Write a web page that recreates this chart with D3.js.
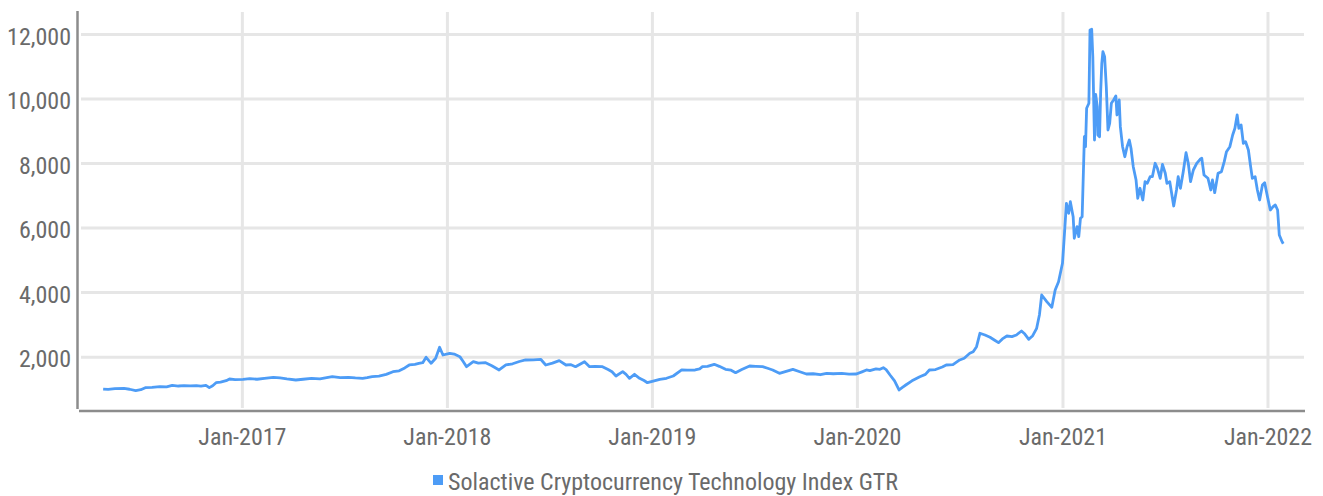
<!DOCTYPE html>
<html>
<head>
<meta charset="utf-8">
<script src="https://cdn.jsdelivr.net/npm/d3@7/dist/d3.min.js"></script>
<style>
  html, body { margin: 0; padding: 0; background: #fff; }
  svg { display: block; }
  text { font-family: "Liberation Sans Narrow", "Roboto Condensed", "DejaVu Sans Condensed", sans-serif; fill: #6a6a6a; }
</style>
</head>
<body>
<svg id="chart" width="1323" height="496"></svg>
<script>
const seriesName = "Solactive Cryptocurrency Technology Index GTR";

const dates = [
  "2016-04-29","2016-05-08","2016-05-20","2016-06-05","2016-06-15","2016-06-26","2016-07-05","2016-07-13","2016-07-25","2016-08-08","2016-08-20","2016-08-30","2016-09-10","2016-09-20","2016-10-01","2016-10-12","2016-10-20","2016-10-29","2016-11-04","2016-11-10","2016-11-16","2016-11-24","2016-12-04","2016-12-10","2016-12-20",
  "2017-01-03","2017-01-15","2017-01-28","2017-02-10","2017-02-26","2017-03-10","2017-03-22","2017-04-07","2017-04-20","2017-05-05","2017-05-20","2017-06-01","2017-06-11","2017-06-25","2017-07-10","2017-07-22","2017-08-04","2017-08-12","2017-08-21","2017-09-02","2017-09-15","2017-09-27","2017-10-08","2017-10-18","2017-10-26","2017-11-05","2017-11-12","2017-11-19","2017-11-25","2017-12-04","2017-12-12","2017-12-19","2017-12-25",
  "2018-01-06","2018-01-14","2018-01-24","2018-01-30","2018-02-05","2018-02-17","2018-02-26","2018-03-11","2018-03-22","2018-04-04","2018-04-16","2018-04-28","2018-05-10","2018-05-21","2018-06-04","2018-06-17","2018-06-26","2018-07-08","2018-07-20","2018-08-01","2018-08-10","2018-08-18","2018-09-03","2018-09-12","2018-09-22","2018-10-05","2018-10-15","2018-10-22","2018-10-29","2018-11-10","2018-11-16","2018-11-22","2018-12-01","2018-12-10","2018-12-18","2018-12-24",
  "2019-01-05","2019-01-15","2019-01-27","2019-02-08","2019-02-23","2019-03-05","2019-03-19","2019-03-27","2019-04-01","2019-04-10","2019-04-22","2019-05-01","2019-05-12","2019-05-22","2019-05-30","2019-06-10","2019-06-24","2019-07-05","2019-07-17","2019-07-26","2019-08-04","2019-08-16","2019-08-25","2019-09-09","2019-09-20","2019-10-03","2019-10-15","2019-10-28","2019-11-08","2019-11-20","2019-12-05","2019-12-18","2019-12-31",
  "2020-01-10","2020-01-18","2020-01-24","2020-02-04","2020-02-11","2020-02-17","2020-02-22","2020-02-29","2020-03-08","2020-03-16","2020-03-22","2020-03-28","2020-04-08","2020-04-22","2020-05-02","2020-05-09","2020-05-20","2020-06-01","2020-06-08","2020-06-20","2020-07-02","2020-07-10","2020-07-20","2020-07-26","2020-08-01","2020-08-07","2020-08-16","2020-08-25","2020-09-03","2020-09-09","2020-09-16","2020-09-24","2020-10-03","2020-10-11","2020-10-20","2020-10-26","2020-11-02","2020-11-09","2020-11-16","2020-11-21","2020-11-25","2020-12-04","2020-12-13","2020-12-19","2020-12-25",
  "2021-01-01","2021-01-03","2021-01-08","2021-01-12","2021-01-15","2021-01-20","2021-01-22","2021-01-27","2021-01-30","2021-02-02","2021-02-05","2021-02-09","2021-02-11","2021-02-13","2021-02-17","2021-02-19","2021-02-22","2021-02-24","2021-02-26","2021-02-27",
  "2021-03-01","2021-03-04","2021-03-05","2021-03-08","2021-03-10","2021-03-12","2021-03-14","2021-03-17","2021-03-20","2021-03-23","2021-03-26","2021-03-29",
  "2021-04-02","2021-04-06","2021-04-08","2021-04-12","2021-04-14","2021-04-18","2021-04-22","2021-04-26","2021-04-30",
  "2021-05-03","2021-05-07","2021-05-12","2021-05-15","2021-05-19","2021-05-24","2021-05-28",
  "2021-06-01","2021-06-06","2021-06-10","2021-06-15","2021-06-19","2021-06-24","2021-06-28",
  "2021-07-03","2021-07-06","2021-07-11","2021-07-18","2021-07-23","2021-07-26","2021-07-30",
  "2021-08-04","2021-08-09","2021-08-13","2021-08-17","2021-08-22","2021-08-28",
  "2021-09-03","2021-09-06","2021-09-10","2021-09-17","2021-09-22","2021-09-25","2021-09-29",
  "2021-10-05","2021-10-11","2021-10-16","2021-10-20","2021-10-26","2021-10-31",
  "2021-11-04","2021-11-08","2021-11-11","2021-11-15","2021-11-19","2021-11-23","2021-11-28",
  "2021-12-02","2021-12-05","2021-12-10","2021-12-14","2021-12-18","2021-12-23","2021-12-27",
  "2022-01-01","2022-01-06","2022-01-11","2022-01-15","2022-01-19","2022-01-22","2022-01-27","2022-01-29"
];

const values = [
  995,985,1010,1020,990,950,975,1038,1050,1070,1065,1112,1090,1100,1095,1105,1090,1112,1040,1100,1193,1210,1255,1308,1290,
  1298,1320,1300,1330,1360,1340,1310,1277,1300,1330,1310,1350,1379,1350,1360,1340,1329,1350,1379,1400,1450,1534,1560,1650,1742,1760,1790,1813,1980,1794,1950,2290,2051,
  2104,2080,2000,1850,1689,1844,1800,1813,1720,1587,1742,1780,1850,1897,1900,1918,1742,1800,1875,1742,1750,1689,1844,1689,1700,1689,1600,1530,1401,1534,1450,1329,1453,1330,1260,1193,
  1250,1298,1330,1401,1587,1580,1587,1620,1689,1700,1763,1700,1608,1580,1503,1600,1711,1700,1689,1640,1587,1484,1530,1608,1540,1463,1470,1440,1484,1470,1480,1460,1463,
  1530,1587,1565,1620,1608,1658,1600,1432,1250,967,1050,1122,1250,1379,1450,1587,1600,1680,1742,1750,1897,1950,2104,2150,2309,2724,2671,2600,2500,2433,2550,2640,2620,2671,2795,2700,2538,2650,2879,3300,3911,3704,3529,4066,4323,
  4893,5407,6752,6442,6802,6337,5668,6027,5718,6288,6337,8816,8506,9696,9851,12123,12144,11296,9541,8714,
  10130,9746,8869,8816,10211,11090,11450,11296,10366,9024,9231,9851,
  9953,10077,9489,9953,9127,8506,8196,8506,8714,
  8457,7887,7474,6907,7217,6855,7422,
  7372,7577,7577,7992,7837,7527,7955,
  7682,7372,7422,6669,7165,7577,7217,
  7732,8320,7992,7422,7784,7992,
  8116,8147,7629,7527,7165,7474,7081,
  7682,7732,8042,8352,8506,8869,
  9076,9489,9076,9179,8612,8661,8404,
  7887,7527,7577,7165,6855,7320,7391,
  6957,6545,6647,6700,6545,5770,5563,5500
];

const yTicks = [2000, 4000, 6000, 8000, 10000, 12000];
const xTickLabels = ["Jan-2017","Jan-2018","Jan-2019","Jan-2020","Jan-2021","Jan-2022"];
const xTickDates = ["2017-01-01","2018-01-01","2019-01-01","2020-01-01","2021-01-01","2022-01-01"];

const parse = d3.timeParse("%Y-%m-%d");
const data = dates.map((d, i) => ({ date: parse(d), value: values[i] }));

const svg = d3.select("#chart");
const mLeft = 79, mRight = 1304, mTop = 11, mBottom = 411;

const x = d3.scaleTime()
  .domain([parse("2016-03-17"), parse("2022-03-07")])
  .range([mLeft, mRight]);
const y = d3.scaleLinear()
  .domain([316, 12711])
  .range([mBottom, mTop]);

// horizontal gridlines
svg.append("g")
  .attr("transform", `translate(${mLeft + 2},0)`)
  .call(d3.axisLeft(y).tickValues(yTicks).tickSize(-(mRight - mLeft - 2)).tickFormat(""))
  .call(g => g.select(".domain").remove())
  .call(g => g.selectAll(".tick line").attr("stroke", "#e6e6e6").attr("stroke-width", 3));

// vertical gridlines
svg.append("g")
  .attr("transform", `translate(0,${mBottom - 3})`)
  .call(d3.axisBottom(x).tickValues(xTickDates.map(parse)).tickSize(-(mBottom - 3 - 12)).tickFormat(""))
  .call(g => g.select(".domain").remove())
  .call(g => g.selectAll(".tick line").attr("stroke", "#e6e6e6").attr("stroke-width", 3));

// y tick labels
svg.append("g")
  .attr("transform", `translate(${mLeft - 2},0)`)
  .call(d3.axisLeft(y).tickValues(yTicks).tickSize(0).tickPadding(6).tickFormat(d3.format(",")))
  .call(g => g.select(".domain").remove())
  .call(g => g.selectAll(".tick text")
    .attr("font-size", 24).attr("dy", "0.42em").attr("fill", "#6a6a6a")
    .attr("font-family", null));

// x tick labels
svg.append("g")
  .attr("transform", `translate(0,${mBottom})`)
  .call(d3.axisBottom(x).tickValues(xTickDates.map(parse)).tickSize(0).tickPadding(0)
    .tickFormat((d, i) => xTickLabels[i]))
  .call(g => g.select(".domain").remove())
  .call(g => g.selectAll(".tick text")
    .attr("font-size", 24).attr("dy", 0).attr("y", 34).attr("fill", "#6a6a6a")
    .attr("font-family", null));

// axis lines
svg.append("line")
  .attr("x1", mLeft - 1.5).attr("x2", mLeft - 1.5)
  .attr("y1", mTop).attr("y2", mBottom - 2)
  .attr("stroke", "#8c8c8c").attr("stroke-width", 2.5);
svg.append("line")
  .attr("x1", mLeft).attr("x2", mRight + 1)
  .attr("y1", mBottom).attr("y2", mBottom)
  .attr("stroke", "#8c8c8c").attr("stroke-width", 2.5);

// series line
const lineColor = "#4d9cf6";
svg.append("path")
  .datum(data)
  .attr("fill", "none")
  .attr("stroke", lineColor)
  .attr("stroke-width", 2.8)
  .attr("stroke-linejoin", "round")
  .attr("d", d3.line().x(d => x(d.date)).y(d => y(d.value)));

// legend
const legend = svg.append("g").attr("transform", "translate(433,475)");
legend.append("rect").attr("width", 10).attr("height", 10).attr("fill", lineColor);
legend.append("text").attr("x", 15).attr("y", 15).attr("font-size", 24).text(seriesName);
</script>
</body>
</html>
